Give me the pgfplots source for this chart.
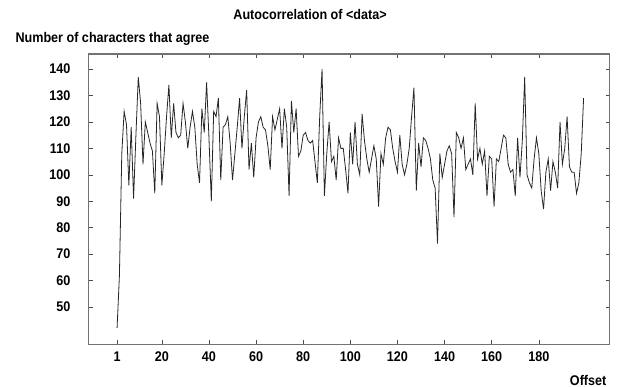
\documentclass[border=0pt]{standalone}
\usepackage{fontspec}
\setmainfont{Liberation Sans}[FakeStretch=0.9]
\usepackage{pgfplots}
\pgfplotsset{compat=1.18}
\usepackage{pgfplotstable}
\pgfplotstableread{
x y
1 42
2 62
3 108
4 124
5 119
6 96
7 118
8 91
9 115
10 137
11 127
12 104
13 120
14 116
15 112
16 109
17 93
18 127
19 122
20 96
21 108
22 122
23 134
24 114
25 127
26 116
27 114
28 115
29 127
30 120
31 110
32 118
33 124
34 118
35 104
36 97
37 125
38 116
39 135
40 114
41 90
42 124
43 122
44 129
45 98
46 118
47 119
48 122
49 112
50 98
51 108
52 118
53 129
54 110
55 122
56 132
57 102
58 112
59 99
60 114
61 120
62 122
63 118
64 117
65 111
66 102
67 122
68 117
69 121
70 125
71 110
72 125
73 118
74 92
75 128
76 116
77 125
78 107
79 109
80 115
81 116
82 113
83 112
84 113
85 105
86 97
87 122
88 140
89 92
90 108
91 120
92 105
93 107
94 98
95 114
96 110
97 110
98 102
99 93
100 116
101 104
102 120
103 104
104 100
105 123
106 113
107 106
108 101
109 106
110 111
111 106
112 88
113 108
114 104
115 114
116 118
117 117
118 110
119 105
120 101
121 115
122 104
123 100
124 104
125 110
126 122
127 133
128 94
129 112
130 103
131 114
132 113
133 110
134 106
135 98
136 95
137 74
138 108
139 99
140 104
141 109
142 111
143 108
144 84
145 116
146 114
147 110
148 114
149 102
150 104
151 106
152 100
153 127
154 106
155 110
156 104
157 109
158 92
159 107
160 106
161 88
162 106
163 105
164 110
165 115
166 114
167 104
168 101
169 102
170 92
171 114
172 99
173 113
174 137
175 100
176 97
177 95
178 106
179 114
180 108
181 94
182 87
183 101
184 106
185 94
186 105
187 101
188 95
189 120
190 104
191 110
192 122
193 103
194 101
195 101
196 93
197 97
198 108
199 129
}\datatable
\newcommand\lblfont{\fontsize{14bp}{16bp}\selectfont\bfseries}
\begin{document}
\begin{tikzpicture}
\begin{axis}[
  at={(88.8bp,42.7bp)}, anchor=south west,
  scale only axis, width=520.7bp, height=290.3bp,
  xmin=-11, xmax=210, ymin=35.9, ymax=145.7,
  xtick={1,20,40,60,80,100,120,140,160,180},
  ytick={50,60,70,80,90,100,110,120,130,140},
  axis line style={black!55, line width=1.1bp},
  tick style={black!70, line width=0.6bp},
  major tick length=4bp,
  tick align=inside,
  /pgf/number format/assume math mode=true,
  ticklabel style={font=\lblfont},
  xticklabel style={yshift=-4bp},
  yticklabel style={xshift=-15bp},
  title={Autocorrelation of <data>},
  title style={font=\lblfont, at={(rel axis cs:0.425,1.114)}, anchor=center},
  ylabel={Number of characters that agree},
  ylabel style={font=\lblfont, rotate=-90, at={(rel axis cs:0.0455,1.052)}, anchor=center},
  xlabel={Offset},
  xlabel style={font=\lblfont, at={(rel axis cs:0.959,-0.123)}, anchor=center},
]
\addplot[black!85, line width=0.8bp, no markers] table[x=x,y=y] {\datatable};
\end{axis}
\pgfresetboundingbox
\useasboundingbox (0,0) rectangle (620bp,387bp);
\end{tikzpicture}
\end{document}
